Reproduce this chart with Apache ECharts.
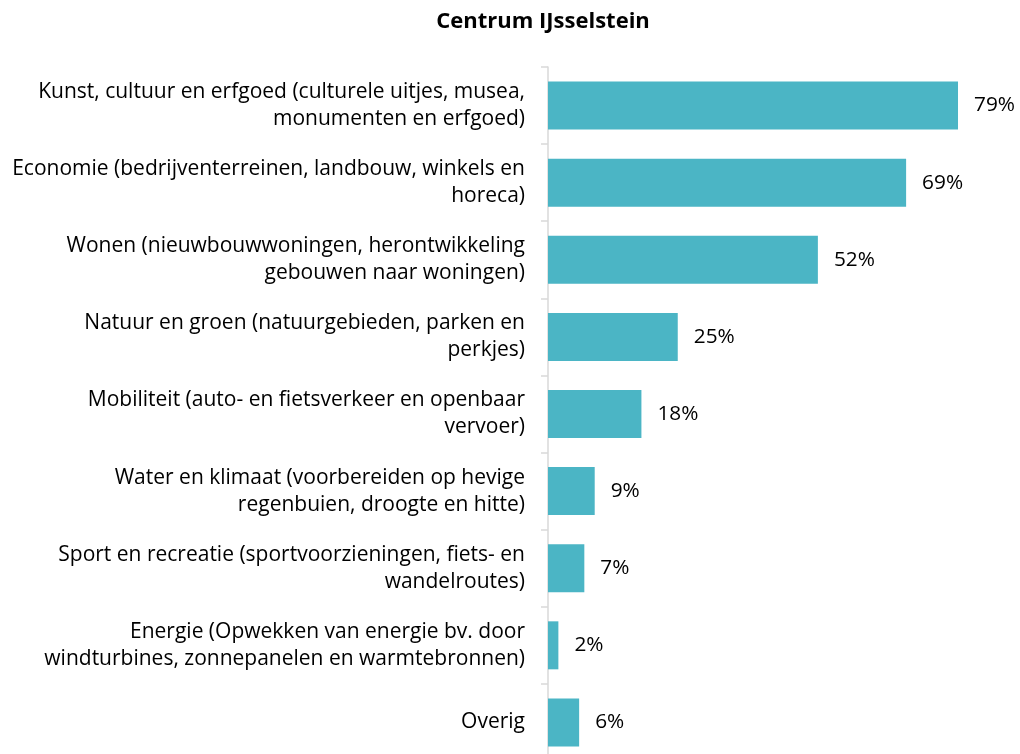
<!DOCTYPE html>
<html>
<head>
<meta charset="utf-8">
<script src="https://cdn.jsdelivr.net/npm/echarts@6/dist/echarts.min.js"></script>
<style>
  html, body { margin: 0; padding: 0; background: #fff; }
  #chart { width: 1020px; height: 754px; }
</style>
</head>
<body>
<div id="chart"></div>
<script>
  // categorieën (van boven naar beneden)
  const categories = [
    'Kunst, cultuur en erfgoed (culturele uitjes, musea,\nmonumenten en erfgoed)',
    'Economie (bedrijventerreinen, landbouw, winkels en\nhoreca)',
    'Wonen (nieuwbouwwoningen, herontwikkeling\ngebouwen naar woningen)',
    'Natuur en groen (natuurgebieden, parken en\nperkjes)',
    'Mobiliteit (auto- en fietsverkeer en openbaar\nvervoer)',
    'Water en klimaat (voorbereiden op hevige\nregenbuien, droogte en hitte)',
    'Sport en recreatie (sportvoorzieningen, fiets- en\nwandelroutes)',
    'Energie (Opwekken van energie bv. door\nwindturbines, zonnepanelen en warmtebronnen)',
    'Overig'
  ];
  // percentages
  const values = [79, 69, 52, 25, 18, 9, 7, 2, 6];

  const chart = echarts.init(document.getElementById('chart'));
  const font = '"Open Sans", sans-serif';

  chart.setOption({
    animation: false,
    title: {
      text: 'Centrum IJsselstein',
      left: 538,
      textAlign: 'center',
      top: 6,
      textStyle: { fontFamily: font, fontSize: 22, fontWeight: 'bold', color: '#000' }
    },
    grid: { left: 548, top: 67, width: 519, height: 694, outerBoundsMode: 'none' },
    xAxis: {
      type: 'value',
      min: 0,
      max: 100,
      show: false
    },
    yAxis: {
      type: 'category',
      inverse: true,
      data: categories,
      axisLine: { show: true, lineStyle: { color: '#D9D9D9', width: 1.5 } },
      axisTick: { show: true, alignWithLabel: false, inside: false, length: 7, lineStyle: { color: '#D9D9D9', width: 1.5 } },
      axisLabel: {
        margin: 23,
        fontFamily: font,
        fontSize: 21,
        lineHeight: 27,
        color: '#000',
        align: 'right'
      }
    },
    series: [{
      type: 'bar',
      data: values,
      barWidth: 48,
      itemStyle: { color: '#4BB5C5' },
      label: {
        show: true,
        position: 'right',
        distance: 16,
        formatter: '{c}%',
        fontFamily: font,
        fontSize: 20.8,
        color: '#000'
      }
    }]
  });
</script>
</body>
</html>
